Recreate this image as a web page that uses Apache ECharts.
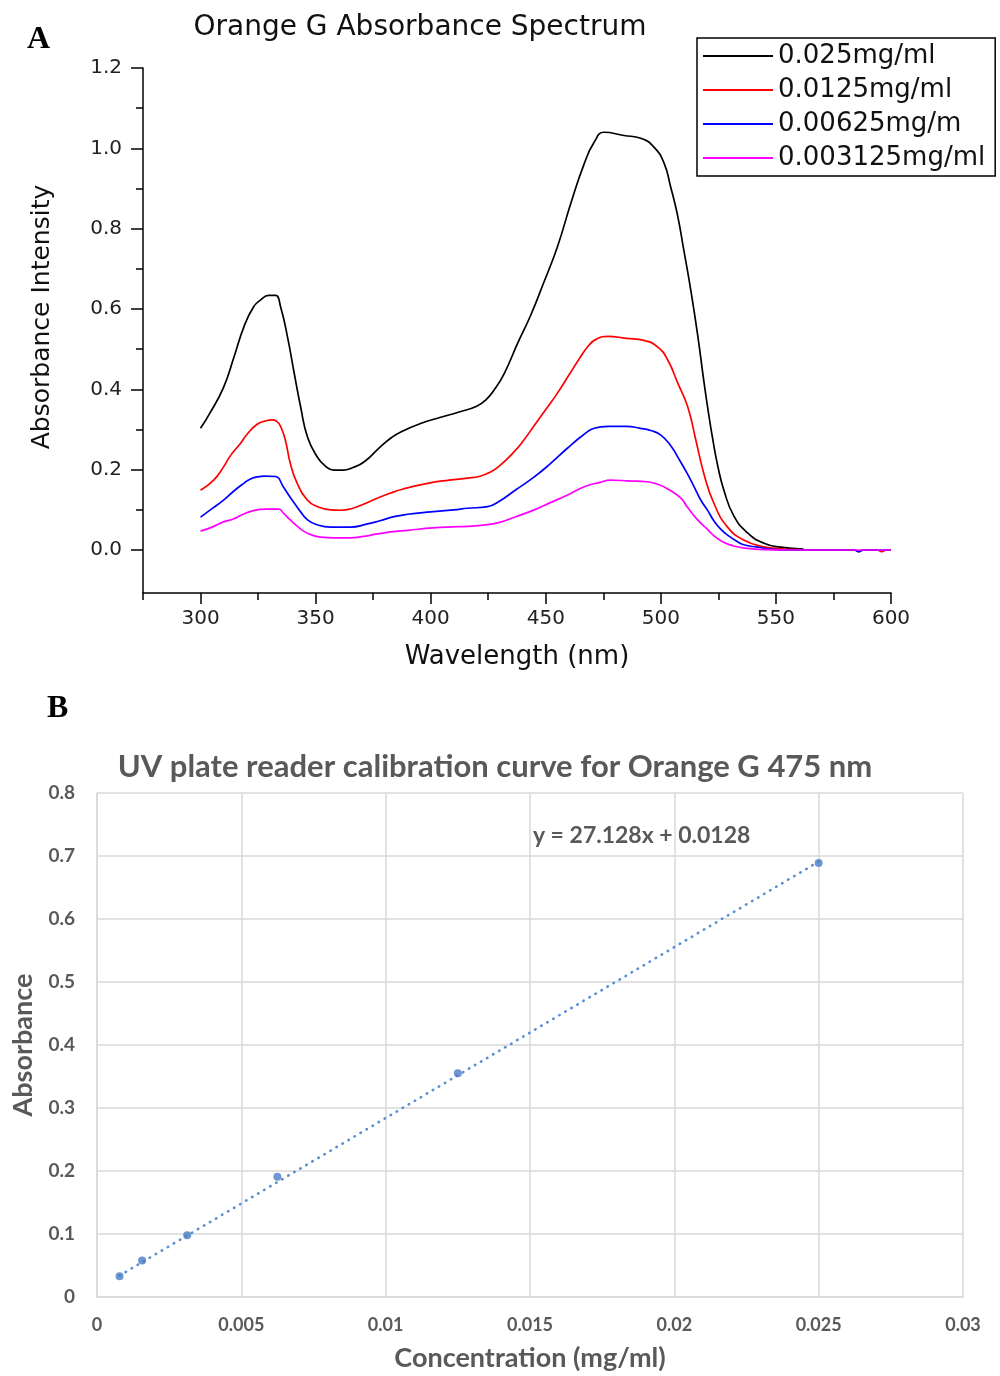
<!DOCTYPE html>
<html>
<head>
<meta charset="utf-8">
<title>Orange G absorbance</title>
<script src="https://cdn.jsdelivr.net/npm/echarts@6/dist/echarts.min.js"></script>
<style>
  html, body { margin: 0; padding: 0; background: #fff; }
  #chart { width: 1000px; height: 1376px; }
</style>
</head>
<body>
<div id="chart"></div>
<script>
// ---- Panel A: absorbance spectra (wavelength in nm, absorbance) ----
const seriesNames = ['0.025mg/ml', '0.0125mg/ml', '0.00625mg/m', '0.003125mg/ml'];
const seriesColors = ['#000000', '#ff0000', '#0000ff', '#ff00ff'];

const wl025 = [300, 304, 310, 314.5, 318.8, 323, 326, 329.6, 332.6, 334.8, 337.8, 340.7, 343.5, 346.5, 350.8, 354, 357.8, 362, 366, 371, 378, 383, 387, 395.6, 404, 412, 420, 424, 428, 432, 437.8, 443.5, 449, 455, 461, 466.6, 471, 475.3, 484, 491.3, 497, 501.4, 504.3, 507.2, 510, 513, 516, 518.7, 520.6, 522.6, 524.7, 527.4, 531.7, 537.8, 544.8, 552, 562];
const abs025 = [0.303, 0.34, 0.405, 0.48, 0.555, 0.605, 0.622, 0.634, 0.634, 0.605, 0.53, 0.44, 0.356, 0.281, 0.231, 0.21, 0.199, 0.199, 0.205, 0.219, 0.256, 0.28, 0.294, 0.315, 0.33, 0.343, 0.358, 0.374, 0.402, 0.44, 0.515, 0.585, 0.664, 0.754, 0.865, 0.96, 1.015, 1.04, 1.032, 1.025, 1.003, 0.963, 0.903, 0.835, 0.746, 0.647, 0.535, 0.42, 0.345, 0.274, 0.21, 0.149, 0.085, 0.042, 0.017, 0.007, 0.002];

const wl0125 = [300, 305.7, 310, 313, 317.4, 320.5, 324.6, 328, 331, 333, 335, 337, 339, 342, 346.5, 350, 356.5, 361, 365, 370, 376.8, 382.6, 388, 398.6, 408, 416, 421, 426, 430, 436, 440, 445, 450, 455, 460, 465, 468.5, 472, 477, 485, 492.6, 498.7, 503, 507.4, 511.7, 515.2, 518.7, 523, 529, 536, 544.8, 552, 560, 570, 580, 584, 586, 588, 594, 596, 598, 600];
const abs0125 = [0.149, 0.174, 0.207, 0.235, 0.266, 0.29, 0.313, 0.321, 0.324, 0.321, 0.305, 0.27, 0.216, 0.166, 0.124, 0.11, 0.1, 0.099, 0.102, 0.112, 0.129, 0.142, 0.152, 0.166, 0.174, 0.179, 0.183, 0.194, 0.21, 0.243, 0.27, 0.31, 0.35, 0.39, 0.435, 0.48, 0.508, 0.525, 0.532, 0.527, 0.522, 0.505, 0.473, 0.415, 0.356, 0.274, 0.19, 0.117, 0.057, 0.025, 0.008, 0.003, 0.001, 0, 0, 0, -0.004, 0, 0, -0.004, 0, 0];

const wl00625 = [300, 305, 310, 314.5, 318.8, 321.7, 324.6, 328, 332.6, 336, 338.5, 340.7, 343.5, 346.5, 350, 356.5, 365, 372.6, 378, 384, 390, 400, 410, 416, 424.7, 430, 437, 445, 452, 459.5, 466, 471, 477, 485, 491, 496, 500, 504, 508, 511.5, 514.4, 517.4, 520.4, 523, 526, 529, 533.5, 536, 542, 548, 555, 570, 584, 586, 588, 600];
const abs00625 = [0.082, 0.103, 0.124, 0.147, 0.166, 0.177, 0.182, 0.184, 0.183, 0.157, 0.135, 0.117, 0.095, 0.075, 0.064, 0.057, 0.057, 0.065, 0.073, 0.083, 0.089, 0.095, 0.1, 0.104, 0.108, 0.122, 0.15, 0.182, 0.215, 0.254, 0.285, 0.303, 0.308, 0.308, 0.303, 0.297, 0.286, 0.262, 0.225, 0.19, 0.158, 0.124, 0.098, 0.073, 0.052, 0.037, 0.02, 0.013, 0.007, 0.002, 0, 0, 0, -0.004, 0, 0];

const wl003125 = [300, 305, 310, 314.5, 318, 323, 328, 334, 336, 339, 341.5, 344.8, 348, 352, 358, 365, 371, 376.8, 382.6, 390, 401, 412, 423, 430, 437, 445, 452, 459.5, 467, 474, 478, 486, 494, 499, 503, 508.7, 511.5, 516, 520, 523, 527, 531.7, 537.8, 545, 555, 570, 585, 600];
const abs003125 = [0.047, 0.057, 0.07, 0.078, 0.088, 0.098, 0.102, 0.102, 0.092, 0.075, 0.062, 0.047, 0.038, 0.032, 0.03, 0.03, 0.034, 0.04, 0.045, 0.049, 0.055, 0.058, 0.062, 0.069, 0.083, 0.1, 0.118, 0.137, 0.158, 0.169, 0.174, 0.172, 0.17, 0.163, 0.152, 0.129, 0.107, 0.075, 0.053, 0.036, 0.02, 0.01, 0.004, 0.001, 0, 0, 0, 0];

const spectraX = [wl025, wl0125, wl00625, wl003125];
const spectraY = [abs025, abs0125, abs00625, abs003125];

// Axis ticks for panel A
const wlMajorTicks = [300, 350, 400, 450, 500, 550, 600];
const wlMinorTicks = [275, 325, 375, 425, 475, 525, 575];
const absMajorTicks = [0, 0.2, 0.4, 0.6, 0.8, 1.0, 1.2];
const absMinorTicks = [0.1, 0.3, 0.5, 0.7, 0.9, 1.1];

// ---- Panel B: plate reader calibration at 475 nm ----
const concentration = [0.00078125, 0.0015625, 0.003125, 0.00625, 0.0125, 0.025];
const absorbance475 = [0.033, 0.058, 0.098, 0.191, 0.355, 0.689];
const fitSlope = 27.128;
const fitIntercept = 0.0128;
const fitLabel = 'y = 27.128x + 0.0128';

const panelFont = 'DejaVu Sans';
const excelFont = 'Lato';
const excelGray = '#595959';
const gridGray = '#d9d9d9';

const spectraSeries = seriesNames.map((name, i) => ({
  name: name,
  type: 'line',
  xAxisIndex: 0,
  yAxisIndex: 0,
  data: spectraX[i].map((x, k) => [x, spectraY[i][k]]),
  showSymbol: false,
  smooth: 0.5,
  color: seriesColors[i],
  lineStyle: { color: seriesColors[i], width: 1.7 },
  z: 2 + i
}));

const fitLine = [concentration[0], concentration[concentration.length - 1]]
  .map(x => [x, fitSlope * x + fitIntercept]);

const chart = echarts.init(document.getElementById('chart'), null, { renderer: 'canvas' });

const option = {
  animation: false,
  backgroundColor: '#ffffff',
  grid: [
    { left: 143, top: 68, width: 748, height: 525 },
    { left: 97, top: 793, width: 866, height: 504 }
  ],
  legend: {
    data: seriesNames,
    orient: 'vertical',
    left: 697,
    top: 38,
    icon: 'rect',
    itemWidth: 70,
    itemHeight: 2,
    itemGap: 6,
    padding: [4, 10, 4, 6],
    borderColor: '#000',
    borderWidth: 1.5,
    textStyle: { fontFamily: panelFont, fontSize: 26, color: '#111', lineHeight: 28 }
  },
  xAxis: [
    {
      gridIndex: 0, type: 'value', min: 275, max: 600, position: 'bottom',
      axisLine: { show: true, onZero: false, lineStyle: { color: '#000', width: 1.5 } },
      axisTick: { show: true, customValues: wlMajorTicks, length: 11, lineStyle: { color: '#000', width: 1.5 } },
      axisLabel: { customValues: wlMajorTicks, fontFamily: panelFont, fontSize: 20, color: '#222', margin: 16 },
      splitLine: { show: false },
      name: 'Wavelength (nm)', nameLocation: 'middle', nameGap: 51,
      nameTextStyle: { fontFamily: panelFont, fontSize: 26, color: '#111' }
    },
    {
      gridIndex: 0, type: 'value', min: 275, max: 600, position: 'bottom',
      axisLine: { show: false, onZero: false },
      axisTick: { show: true, customValues: wlMinorTicks, length: 7, lineStyle: { color: '#000', width: 1.5 } },
      axisLabel: { show: false },
      splitLine: { show: false }
    },
    {
      gridIndex: 1, type: 'value', min: 0, max: 0.03, interval: 0.005,
      axisLine: { show: true, lineStyle: { color: gridGray, width: 1.5 } },
      axisTick: { show: false },
      axisLabel: { fontFamily: excelFont, fontWeight: 'bold', fontSize: 18, color: excelGray, margin: 19 },
      splitLine: { show: true, lineStyle: { color: gridGray, width: 1.5 } },
      name: 'Concentration (mg/ml)', nameLocation: 'middle', nameGap: 48,
      nameTextStyle: { fontFamily: excelFont, fontWeight: 'bold', fontSize: 27, color: excelGray }
    }
  ],
  yAxis: [
    {
      gridIndex: 0, type: 'value', min: -0.107, max: 1.2, position: 'left',
      axisLine: { show: true, onZero: false, lineStyle: { color: '#000', width: 1.5 } },
      axisTick: { show: true, customValues: absMajorTicks, length: 12, lineStyle: { color: '#000', width: 1.5 } },
      axisLabel: { customValues: absMajorTicks, formatter: v => v.toFixed(1), fontFamily: panelFont, fontSize: 20, color: '#222', margin: 21 },
      splitLine: { show: false }
    },
    {
      gridIndex: 0, type: 'value', min: -0.107, max: 1.2, position: 'left',
      axisLine: { show: false, onZero: false },
      axisTick: { show: true, customValues: absMinorTicks, length: 7, lineStyle: { color: '#000', width: 1.5 } },
      axisLabel: { show: false },
      splitLine: { show: false }
    },
    {
      gridIndex: 1, type: 'value', min: 0, max: 0.8, interval: 0.1,
      axisLine: { show: true, lineStyle: { color: gridGray, width: 1.5 } },
      axisTick: { show: false },
      axisLabel: { fontFamily: excelFont, fontWeight: 'bold', fontSize: 19, color: excelGray, margin: 22 },
      splitLine: { show: true, lineStyle: { color: gridGray, width: 1.5 } },
      name: 'Absorbance', nameLocation: 'middle', nameGap: 60,
      nameTextStyle: { fontFamily: excelFont, fontWeight: 'bold', fontSize: 27, color: excelGray }
    }
  ],
  series: spectraSeries.concat([
    {
      name: 'Linear fit',
      type: 'line',
      xAxisIndex: 2,
      yAxisIndex: 2,
      data: fitLine,
      showSymbol: false,
      color: '#5b8fd3',
      lineStyle: { color: '#5b8fd3', width: 2.6, type: [0.5, 6.5], cap: 'round' },
      z: 2
    },
    {
      name: 'Absorbance 475 nm',
      type: 'scatter',
      xAxisIndex: 2,
      yAxisIndex: 2,
      data: concentration.map((c, i) => [c, absorbance475[i]]),
      symbol: 'circle',
      symbolSize: 8,
      itemStyle: { color: '#4a7cc4' },
      z: 3
    }
  ]),
  graphic: [
    { type: 'text', id: 'labelA', x: 27, y: 40, style: { text: 'A', font: 'bold 32px "Liberation Serif"', fill: '#000', verticalAlign: 'middle' } },
    { type: 'text', id: 'titleA', x: 420, y: 28, style: { text: 'Orange G Absorbance Spectrum', font: '28px "DejaVu Sans"', fill: '#111', align: 'center', verticalAlign: 'middle' } },
    { type: 'text', id: 'nameYA', x: 42, y: 317, rotation: Math.PI / 2, style: { text: 'Absorbance Intensity', font: '25px "DejaVu Sans"', fill: '#111', align: 'center', verticalAlign: 'middle' } },
    { type: 'text', id: 'labelB', x: 47, y: 709, style: { text: 'B', font: 'bold 32px "Liberation Serif"', fill: '#000', verticalAlign: 'middle' } },
    { type: 'text', id: 'titleB', x: 495, y: 767, style: { text: 'UV plate reader calibration curve for Orange G 475 nm', font: 'bold 31px Lato', fill: excelGray, align: 'center', verticalAlign: 'middle' } }
  ]
};

chart.setOption(option);

// Place the regression equation in data coordinates of the calibration plot
const eqAnchor = chart.convertToPixel({ gridIndex: 1 }, [0.0151, 0.733]);
chart.setOption({
  graphic: [
    { type: 'text', id: 'equation', x: eqAnchor[0], y: eqAnchor[1], style: { text: fitLabel, font: 'bold 23px Lato', fill: excelGray, align: 'left', verticalAlign: 'middle' } }
  ]
});
</script>
</body>
</html>
